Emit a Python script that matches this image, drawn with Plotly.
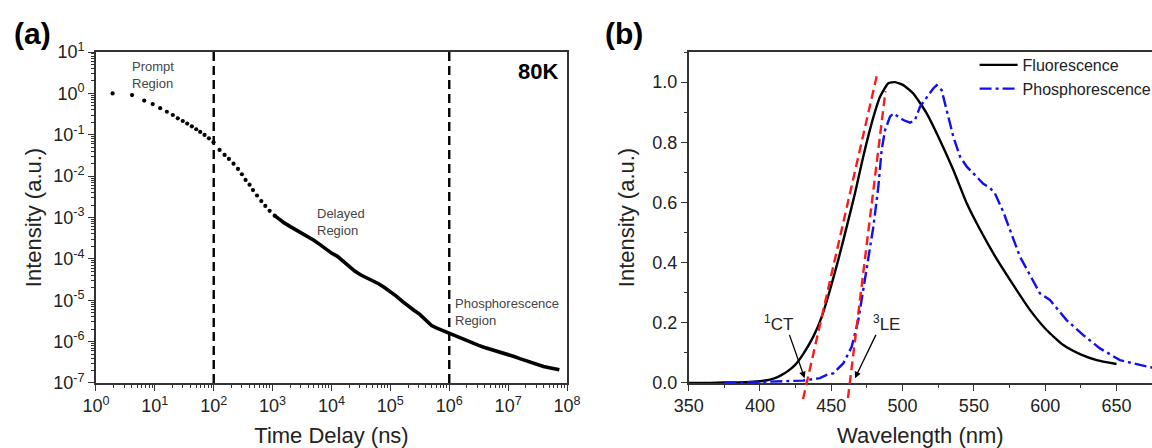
import plotly.graph_objects as go

# ---------------- Panel (a): transient decay at 80K ----------------
time_ns = [1.92, 4.1, 6.6, 9.2, 12.3, 16.0, 20.2, 24.5, 29.8, 35.4, 42.5, 50.4, 58.9, 69.8, 82.8,
           99.3, 125.6, 153, 181, 217, 258, 301, 347, 406, 464, 543, 643, 752, 891, 1084,
           1.26e3, 1.58e3, 2.0e3, 2.51e3, 3.16e3, 3.98e3, 5.01e3, 6.31e3, 7.94e3,
           1.0e4, 1.26e4, 1.58e4, 2.0e4, 2.51e4, 3.16e4, 3.98e4, 5.01e4, 6.31e4, 7.94e4,
           1.0e5, 1.26e5, 1.58e5, 2.0e5, 2.51e5, 3.16e5, 3.98e5, 5.01e5, 6.31e5, 7.94e5,
           1.0e6, 1.26e6, 1.58e6, 2.0e6, 2.51e6, 3.16e6, 3.98e6, 5.01e6, 6.31e6, 7.94e6,
           1.0e7, 1.26e7, 1.58e7, 2.0e7, 2.51e7, 3.16e7, 3.98e7, 5.01e7, 6.31e7, 7.41e7]
intensity_a = [1.0, 0.91, 0.67, 0.55, 0.44, 0.36, 0.30, 0.25, 0.215, 0.186, 0.16, 0.136, 0.117, 0.099, 0.082,
               0.066, 0.043, 0.0325, 0.026, 0.020, 0.0149, 0.0111, 0.0081, 0.0062, 0.0046, 0.0034, 0.0025, 0.0019, 0.00145, 0.00111,
               9.33e-4, 7.41e-4, 6.03e-4, 5.01e-4, 4.27e-4, 3.47e-4, 2.82e-4, 2.24e-4, 1.74e-4,
               1.38e-4, 1.15e-4, 8.71e-5, 6.46e-5, 5.01e-5, 4.07e-5, 3.47e-5, 3.02e-5, 2.51e-5, 2.04e-5,
               1.62e-5, 1.26e-5, 9.55e-6, 7.24e-6, 5.75e-6, 4.57e-6, 3.39e-6, 2.45e-6, 2.09e-6, 1.82e-6,
               1.62e-6, 1.38e-6, 1.17e-6, 1.02e-6, 9.12e-7, 8.13e-7, 7.24e-7, 6.61e-7, 5.89e-7, 5.37e-7,
               4.90e-7, 4.37e-7, 3.89e-7, 3.47e-7, 3.09e-7, 2.75e-7, 2.51e-7, 2.34e-7, 2.19e-7, 2.09e-7]
n_dots = 30  # early points appear as separated dots; the rest merge into a thick trace

region_bounds_ns = [1e2, 1e6]
y_a_ticks = [-7, -6, -5, -4, -3, -2, -1, 0, 1]
x_a_ticks = [0, 1, 2, 3, 4, 5, 6, 7, 8]

# ---------------- Panel (b): fluorescence / phosphorescence ----------------
fl_wl = [350, 360, 370, 380, 390, 400, 405, 410, 415, 420, 425, 430.4, 437.4, 443.3, 449.1, 454.9, 460.8,
         466.6, 472.4, 478.3, 484.2, 490, 494.7, 500.5, 507.5, 516.9, 526.2, 535.6, 545, 554.3,
         565, 577.6, 589.3, 601, 612.7, 624.4, 636.1, 650]
fl_int = [0.0, 0.0, 0.001, 0.002, 0.003, 0.006, 0.009, 0.015, 0.026, 0.041, 0.062, 0.097, 0.154, 0.22, 0.309, 0.409, 0.519,
          0.63, 0.752, 0.863, 0.951, 0.996, 1.0, 0.99, 0.962, 0.896, 0.807, 0.708, 0.597, 0.51,
          0.42, 0.326, 0.243, 0.176, 0.126, 0.096, 0.076, 0.063]

ph_wl = [375, 390, 400, 415, 430, 442, 446.8, 451.4, 458.4, 464.3, 469, 472.4, 476, 479.5, 483, 485.3,
         487.7, 491.2, 493.5, 497, 500.5, 505.2, 508.7, 512.2, 516.9, 521.5, 523.9, 527.4, 530.9,
         535.6, 540.3, 545, 550.8, 556.6, 561.3, 564.8, 570.6, 582.3, 596.3, 603.3, 615, 626.7,
         638.4, 652.4, 666.4, 680]
ph_int = [0.0, 0.002, 0.004, 0.006, 0.008, 0.016, 0.027, 0.032, 0.065, 0.12, 0.209, 0.309, 0.409, 0.519, 0.652, 0.774,
          0.84, 0.885, 0.896, 0.885, 0.874, 0.865, 0.874, 0.918, 0.951, 0.979, 0.99, 0.973, 0.907,
          0.818, 0.752, 0.719, 0.691, 0.662, 0.648, 0.63, 0.569, 0.42, 0.298, 0.276, 0.209, 0.159,
          0.115, 0.076, 0.06, 0.046]

ct_tan_wl = [430.2, 482.0]
ct_tan_int = [-0.053, 1.023]
le_tan_wl = [461.7, 488.0]
le_tan_int = [-0.05, 0.97]

# ---------------- Figure ----------------
FONT = "Liberation Sans, Arial, sans-serif"
AXC = "#333333"
fig = go.Figure()

# panel (a)
fig.add_trace(go.Scatter(x=time_ns[:n_dots], y=intensity_a[:n_dots], mode="markers",
                         marker=dict(color="black", size=4.2), showlegend=False, xaxis="x", yaxis="y"))
fig.add_trace(go.Scatter(x=time_ns[n_dots - 1:], y=intensity_a[n_dots - 1:], mode="lines",
                         line=dict(color="black", width=3.6), showlegend=False, xaxis="x", yaxis="y"))
for xb in region_bounds_ns:
    fig.add_trace(go.Scatter(x=[xb, xb], y=[1e-7, 10], mode="lines",
                             line=dict(color="black", width=2.4, dash="9px,5px"),
                             showlegend=False, xaxis="x", yaxis="y"))

# panel (b)
fig.add_trace(go.Scatter(x=fl_wl, y=fl_int, mode="lines", name="Fluorescence",
                         line=dict(color="black", width=2.4, shape="spline", smoothing=0.5),
                         xaxis="x2", yaxis="y2"))
fig.add_trace(go.Scatter(x=ph_wl, y=ph_int, mode="lines", name="Phosphorescence",
                         line=dict(color="#1010f0", width=2.4, dash="12px,4px,3px,4px"),
                         xaxis="x2", yaxis="y2"))
for wl, it in [(ct_tan_wl, ct_tan_int), (le_tan_wl, le_tan_int)]:
    fig.add_trace(go.Scatter(x=wl, y=it, mode="lines",
                             line=dict(color="#ff1a1a", width=2.4, dash="9px,5px"),
                             showlegend=False, xaxis="x3", yaxis="y3"))

# geometry
ya_dom = [0.1451, 0.8839]
xb_dom = [0.5978, 1.0]
xb_range = [350, 674.9]
yb_range = [0, 1.1]
ext = 0.08
scale = (ya_dom[1] - ya_dom[0]) / (yb_range[1] - yb_range[0])
y3_dom = [ya_dom[0] - ext * scale, ya_dom[1]]

tickfont = dict(family=FONT, size=18, color="#222")
titlefont = dict(family=FONT, size=22, color="#222")

minor_x_a = [m * 10 ** k for k in range(0, 8) for m in range(2, 10)]
minor_y_a = [m * 10.0 ** k for k in range(-7, 1) for m in range(2, 10)]

common = dict(showline=True, linecolor=AXC, linewidth=1.6, showgrid=False, zeroline=False,
              ticks="outside", ticklen=6, tickwidth=1.4, tickcolor=AXC, automargin=False,
              tickfont=tickfont)
minor_common = dict(ticks="outside", ticklen=3, tickwidth=1, tickcolor=AXC, showgrid=False)

fig.update_layout(
    template="none",
    width=1152, height=448,
    margin=dict(l=0, r=0, t=0, b=0, autoexpand=False),
    paper_bgcolor="white", plot_bgcolor="rgba(0,0,0,0)",
    font=dict(family=FONT, color="#222"),
    xaxis=dict(type="log", range=[0, 8], domain=[0.0833, 0.4922], anchor="y", mirror=True,
               tickvals=[10 ** k for k in x_a_ticks], ticktext=["10<sup>%d</sup>" % k for k in x_a_ticks],
               minor=dict(tickvals=minor_x_a, **minor_common),
               title=dict(text="Time Delay (ns)", font=titlefont), **common),
    yaxis=dict(type="log", range=[-7, 1], domain=ya_dom, anchor="x", mirror=True,
               tickvals=[10.0 ** k for k in y_a_ticks], ticktext=["10<sup>%d</sup>" % k for k in y_a_ticks],
               minor=dict(tickvals=minor_y_a, **minor_common),
               title=dict(text="Intensity (a.u.)", font=titlefont), **common),
    xaxis2=dict(range=xb_range, domain=xb_dom, anchor="y2", mirror=True, tick0=350, dtick=50,
                minor=dict(dtick=25, **minor_common),
                title=dict(text="Wavelength (nm)", font=titlefont), **common),
    yaxis2=dict(range=yb_range, domain=ya_dom, anchor="x2", mirror=False, tick0=0, dtick=0.2,
                tickformat=".1f", minor=dict(dtick=0.1, **minor_common),
                title=dict(text="Intensity (a.u.)", font=titlefont), **common),
    xaxis3=dict(range=xb_range, domain=xb_dom, anchor="y3", visible=False),
    yaxis3=dict(range=[yb_range[0] - ext, yb_range[1]], domain=y3_dom, anchor="x3", visible=False),
    legend=dict(x=0.846, y=0.893, xanchor="left", yanchor="top", bgcolor="rgba(0,0,0,0)",
                font=dict(family=FONT, size=16, color="#222"), itemwidth=38, tracegroupgap=0),
)

gray = "#444444"
ann = [
    dict(text="<b>(a)</b>", x=0.0286, y=0.926, xref="paper", yref="paper", xanchor="center", yanchor="middle",
         showarrow=False, font=dict(family=FONT, size=30, color="black")),
    dict(text="<b>(b)</b>", x=0.5417, y=0.926, xref="paper", yref="paper", xanchor="center", yanchor="middle",
         showarrow=False, font=dict(family=FONT, size=30, color="black")),
    dict(text="<b>80K</b>", x=0.985, y=0.541, xref="x domain", yref="y", xanchor="right", yanchor="middle",
         showarrow=False, font=dict(family=FONT, size=22, color="black")),
    dict(text="Prompt<br>Region", x=0.579, y=0.87, xref="x", yref="y", xanchor="left", yanchor="top",
         align="left", showarrow=False, font=dict(family=FONT, size=13, color=gray)),
    dict(text="Delayed<br>Region", x=3.728, y=-2.68, xref="x", yref="y", xanchor="left", yanchor="top",
         align="left", showarrow=False, font=dict(family=FONT, size=13, color=gray)),
    dict(text="Phosphorescence<br>Region", x=6.06, y=-4.85, xref="x", yref="y", xanchor="left", yanchor="top",
         align="left", showarrow=False, font=dict(family=FONT, size=13, color=gray)),
    dict(text="<sup>1</sup>CT", x=412.8, y=0.198, xref="x2", yref="y2", xanchor="center", yanchor="middle",
         showarrow=False, font=dict(family=FONT, size=17, color="#222")),
    dict(text="<sup>3</sup>LE", x=488.5, y=0.198, xref="x2", yref="y2", xanchor="center", yanchor="middle",
         showarrow=False, font=dict(family=FONT, size=17, color="#222")),
    dict(text="", x=431.3, y=0.016, ax=420.3, ay=0.165, xref="x2", yref="y2", axref="x2", ayref="y2",
         showarrow=True, arrowhead=2, arrowsize=1.0, arrowwidth=1.3, arrowcolor="black"),
    dict(text="", x=466.6, y=0.016, ax=481.8, ay=0.165, xref="x2", yref="y2", axref="x2", ayref="y2",
         showarrow=True, arrowhead=2, arrowsize=1.0, arrowwidth=1.3, arrowcolor="black"),
]
fig.update_layout(annotations=ann)

fig.write_html("out.html", config={"displayModeBar": False},
               post_script="document.body.style.margin='0';document.body.style.overflow='hidden';")
